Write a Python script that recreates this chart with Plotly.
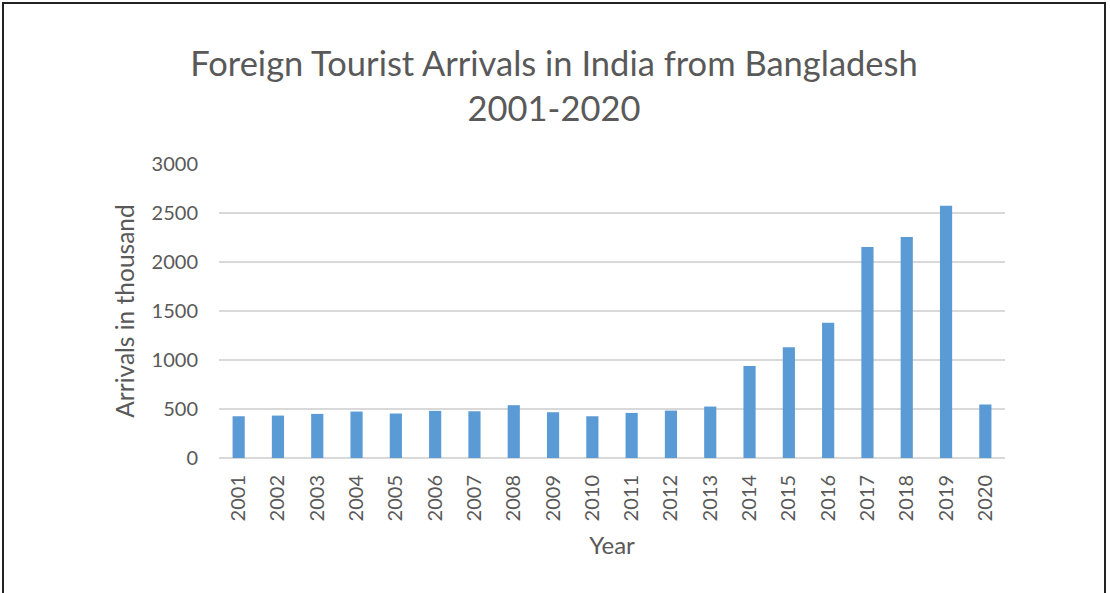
import plotly.graph_objects as go

years = [str(y) for y in range(2001, 2021)]
arrivals = [426, 433, 450, 474, 454, 481, 477, 539, 467, 426,
            460, 484, 525, 940, 1131, 1380, 2153, 2256, 2575, 546]
y_ticks = [0, 500, 1000, 1500, 2000, 2500, 3000]

W, H = 1110, 593
L, R, T, B = 219, 105, 164, 135
pw, ph = W - L - R, H - T - B

def px_x(x):
    return (x - L) / pw

def px_y(y):
    return (H - B - y) / ph

font_family = "Lato, 'Open Sans', sans-serif"
grey = "#595959"

fig = go.Figure(go.Bar(
    x=years, y=arrivals,
    marker=dict(color="#5B9BD5", line=dict(width=0)),
))

fig.update_layout(
    width=W, height=H,
    margin=dict(l=L, r=R, t=T, b=B),
    paper_bgcolor="white", plot_bgcolor="white",
    bargap=0.69,
    showlegend=False,
    font=dict(family=font_family, color=grey),
    title=dict(
        text="Foreign Tourist Arrivals in India from Bangladesh<br>2001-2020",
        x=554 / W, xref="container", xanchor="center",
        y=1 - 76 / H, yref="container", yanchor="middle",
        font=dict(size=34.5, color=grey, family=font_family),
    ),
    xaxis=dict(
        type="category",
        tickangle=-90,
        tickfont=dict(size=20, color=grey),
        showgrid=False, showline=False, ticks="",
        ticklabelstandoff=12,
        title=dict(text="Year", font=dict(size=24, color=grey), standoff=16),
    ),
    yaxis=dict(
        range=[0, 3000],
        tickvals=y_ticks,
        tickfont=dict(size=20, color=grey),
        showgrid=True, gridcolor="#d9d9d9", gridwidth=1.5,
        zeroline=True, zerolinecolor="#d9d9d9", zerolinewidth=1.5,
        showline=False, ticks="",
        ticklabelstandoff=20,
        title=dict(text="Arrivals in thousand", font=dict(size=24.5, color=grey), standoff=10),
    ),
)

# outer frame around the chart
fig.add_shape(
    type="rect", xref="paper", yref="paper",
    x0=px_x(3), x1=px_x(1105), y0=px_y(600), y1=px_y(3),
    line=dict(color="#222222", width=2), fillcolor="rgba(0,0,0,0)",
    layer="above",
)

fig.write_html("out.html")
